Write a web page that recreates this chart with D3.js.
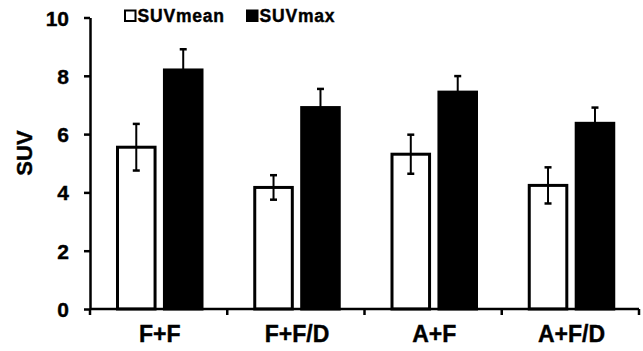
<!DOCTYPE html>
<html>
<head>
<meta charset="utf-8">
<script src="https://cdn.jsdelivr.net/npm/d3@7"></script>
<style>
  body { margin: 0; background: #fff; }
  text { font-family: "Liberation Sans", Arial, sans-serif; font-weight: bold; fill: #000; stroke: #000; stroke-width: 0.4px; }
</style>
</head>
<body>
<svg id="chart" width="643" height="351"></svg>
<script>
var groups = ["F+F", "F+F/D", "A+F", "A+F/D"];
var series = ["SUVmean", "SUVmax"];
var meanVals = [5.55, 4.17, 5.31, 4.24];
var meanErr = [0.8, 0.42, 0.67, 0.62];
var maxVals = [8.2, 6.91, 7.44, 6.37];
var maxErr = [0.71, 0.64, 0.55, 0.54];
var yTicks = [0, 2, 4, 6, 8, 10];

var plotLeft = 90, plotRight = 639, plotTop = 17.5, plotBottom = 309;

var svg = d3.select("#chart");

var x0 = d3.scaleBand().domain(groups).range([plotLeft, plotRight]).padding(0);
var x1 = d3.scaleBand().domain(series).range([27.5, 112]).paddingInner(0.2).paddingOuter(0);
var y = d3.scaleLinear().domain([0, 10]).range([plotBottom, plotTop]);

var rows = groups.map(function(g, i) {
    return [
        { g: g, s: "SUVmean", v: meanVals[i], e: meanErr[i] },
        { g: g, s: "SUVmax", v: maxVals[i], e: maxErr[i] }
    ];
});
var flat = [].concat.apply([], rows);

// bars
svg.append("g").selectAll("rect")
    .data(flat)
    .enter()
    .append("rect")
    .attr("x", function(d) { return x0(d.g) + x1(d.s); })
    .attr("y", function(d) { return y(d.v); })
    .attr("width", x1.bandwidth())
    .attr("height", function(d) { return y(0) - y(d.v); })
    .style("fill", function(d) { return d.s == "SUVmean" ? "#fff" : "#000"; })
    .style("stroke", "#000")
    .style("stroke-width", 3);

// error bars
var eb = svg.append("g").selectAll("g")
    .data(flat)
    .enter()
    .append("g")
    .attr("transform", function(d) { return "translate(" + (x0(d.g) + x1(d.s) + x1.bandwidth() / 2) + ",0)"; });
eb.append("line")
    .attr("y1", function(d) { return y(d.v - d.e); })
    .attr("y2", function(d) { return y(d.v + d.e); })
    .style("stroke", "#000").style("stroke-width", 2);
eb.append("line")
    .attr("x1", -3.5).attr("x2", 3.5)
    .attr("y1", function(d) { return y(d.v + d.e); })
    .attr("y2", function(d) { return y(d.v + d.e); })
    .style("stroke", "#000").style("stroke-width", 2.5);
eb.append("line")
    .attr("x1", -3.5).attr("x2", 3.5)
    .attr("y1", function(d) { return y(d.v - d.e); })
    .attr("y2", function(d) { return y(d.v - d.e); })
    .style("stroke", "#000").style("stroke-width", 2.5);

// y axis
var yAxis = svg.append("g")
    .attr("transform", "translate(" + plotLeft + ",0)")
    .call(d3.axisLeft(y).tickValues(yTicks).tickSize(6).tickSizeOuter(0).tickPadding(15));
yAxis.select(".domain").style("stroke", "#000").style("stroke-width", 2.5);
yAxis.selectAll(".tick line").style("stroke", "#000").style("stroke-width", 2.5);
yAxis.selectAll(".tick text").style("font-size", "21px").attr("dy", "0.36em");

// x axis
var xAxis = svg.append("g").attr("transform", "translate(0," + plotBottom + ")");
xAxis.append("line")
    .attr("x1", plotLeft).attr("x2", plotRight)
    .style("stroke", "#000").style("stroke-width", 2.5);
var bounds = groups.map(function(g) { return x0(g); }).concat([x0.range()[1]]);
xAxis.selectAll("line.tk")
    .data(bounds)
    .enter()
    .append("line")
    .attr("class", "tk")
    .attr("x1", function(d) { return d; })
    .attr("x2", function(d) { return d; })
    .attr("y1", 0).attr("y2", 6)
    .style("stroke", "#000").style("stroke-width", 2.5);
xAxis.selectAll("text")
    .data(groups)
    .enter()
    .append("text")
    .attr("x", function(g) { return x0(g) + (x1.range()[0] + x1.range()[1]) / 2; })
    .attr("y", 33)
    .attr("text-anchor", "middle")
    .style("font-size", "23px")
    .text(function(g) { return g; });

// y label
svg.append("text")
    .attr("transform", "translate(32,153) rotate(-90)")
    .attr("text-anchor", "middle")
    .style("font-size", "22px")
    .text("SUV");

// legend
var legendX = [125, 247];
var lg = svg.append("g").selectAll("g")
    .data(series)
    .enter()
    .append("g")
    .attr("transform", function(d, i) { return "translate(" + legendX[i] + ",16)"; });
lg.append("rect")
    .attr("x", 0).attr("y", -5.5).attr("width", 10.5).attr("height", 10.5)
    .style("fill", function(d) { return d == "SUVmean" ? "#fff" : "#000"; })
    .style("stroke", "#000").style("stroke-width", 2);
lg.append("text")
    .attr("x", 12.5).attr("dy", "0.36em")
    .style("font-size", "17.5px")
    .style("letter-spacing", "0.8px")
    .text(function(d) { return d; });
</script>
</body>
</html>
